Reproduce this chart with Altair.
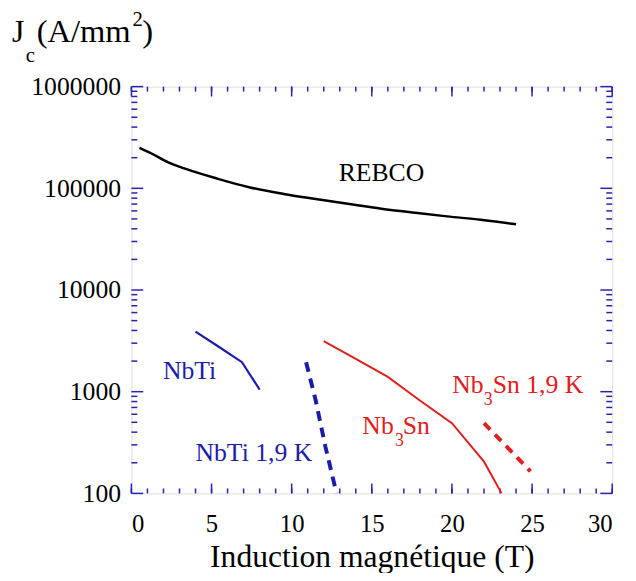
import altair as alt
import pandas as pd

# ---- data ----
rebco_x = [0.5, 1.25, 2.3, 3.3, 5.4, 7.4, 9.5, 11.5, 13.6, 15.6, 17.7, 19.7, 21.8, 24.0]
rebco_y = [250000, 220000, 180000, 157000, 124000, 102000, 88000, 78500, 70000, 63000,
           57500, 53000, 49000, 44400]

nbti_x = [4.0, 5.4, 6.9, 8.0]
nbti_y = [3900, 2800, 1950, 1050]

nbti19_x = [10.9, 11.5, 12.1, 12.8]
nbti19_y = [1950, 820, 290, 100]

nb3sn_x = [12.0, 14.0, 16.0, 18.0, 20.0, 22.0, 23.1]
nb3sn_y = [3150, 2100, 1400, 820, 490, 205, 100]

nb3sn19_x = [22.0, 23.4, 24.9]
nb3sn19_y = [490, 290, 165]

x_major = [0, 5, 10, 15, 20, 25, 30]
x_minor = list(range(0, 31))
y_major = [100, 1000, 10000, 100000, 1000000]
y_minor = [m * 10 ** e for e in range(2, 6) for m in range(2, 10)]

FONT = "Liberation Serif"
BLUE = "#1c1caa"
FRAME = "#2323b0"
RED = "#e0201c"
W, H = 487, 412

xs = alt.Scale(domain=[0, 30], nice=False, zero=False)
ys = alt.Scale(type="log", domain=[100, 1000000], nice=False)


def line(xv, yv, color, width, dash=None, interp="linear"):
    df = pd.DataFrame({"x": xv, "y": yv})
    kw = dict(color=color, strokeWidth=width, clip=True, interpolate=interp)
    if dash:
        kw["strokeDash"] = dash
    return alt.Chart(df).mark_line(**kw).encode(
        x=alt.X("x:Q", scale=xs), y=alt.Y("y:Q", scale=ys)
    )


base_x = alt.X(
    "x:Q",
    scale=xs,
    axis=alt.Axis(
        values=x_major, ticks=False, domain=False, grid=False,
        labelFont=FONT, labelFontSize=25, labelColor="black", labelPadding=19,
        title="Induction magnétique (T)", titleFont=FONT, titleFontSize=32,
        titleFontWeight="normal", titleColor="black", titlePadding=5,
    ),
)
base_y = alt.Y(
    "y:Q",
    scale=ys,
    axis=alt.Axis(
        values=y_major, format="d", ticks=False, domain=False, grid=False,
        labelFont=FONT, labelFontSize=26, labelColor="black", labelPadding=11,
        title=None,
    ),
)

axes = alt.Chart(pd.DataFrame({"x": [0], "y": [100]})).mark_point(opacity=0).encode(
    x=base_x, y=base_y
)


def xticks(vals, length):
    df = pd.DataFrame({"x": vals})
    bot = alt.Chart(df).mark_rule(color=FRAME, strokeWidth=1.5).encode(
        x=alt.X("x:Q", scale=xs), y=alt.value(H), y2=alt.value(H - length)
    )
    top = alt.Chart(df).mark_rule(color=FRAME, strokeWidth=1.5).encode(
        x=alt.X("x:Q", scale=xs), y=alt.value(0), y2=alt.value(length)
    )
    return bot + top


def yticks(vals, length):
    df = pd.DataFrame({"y": vals})
    left = alt.Chart(df).mark_rule(color=FRAME, strokeWidth=1.5).encode(
        y=alt.Y("y:Q", scale=ys), x=alt.value(0), x2=alt.value(length)
    )
    right = alt.Chart(df).mark_rule(color=FRAME, strokeWidth=1.5).encode(
        y=alt.Y("y:Q", scale=ys), x=alt.value(W), x2=alt.value(W - length)
    )
    return left + right


def label(text, x, y, color, size=26, align="center", dx=0, dy=0):
    df = pd.DataFrame({"x": [x], "y": [y], "t": [text]})
    return alt.Chart(df).mark_text(
        font=FONT, fontSize=size, color=color, align=align, baseline="middle",
        dx=dx, dy=dy,
    ).encode(x=alt.X("x:Q", scale=xs), y=alt.Y("y:Q", scale=ys), text="t:N")


def pix_text(text, px, py, size, align="left"):
    df = pd.DataFrame({"t": [text]})
    return alt.Chart(df).mark_text(
        font=FONT, fontSize=size, color="black", align=align, baseline="middle"
    ).encode(x=alt.value(px), y=alt.value(py), text="t:N")


labels = (
    label("REBCO", 15.6, 140000, "black")
    + label("NbTi", 3.63, 1600, BLUE)
    + label("NbTi 1,9 K", 7.64, 250, BLUE)
    + label("Nb", 14.41, 457, RED, align="left")
    + label("3", 14.41, 457, RED, size=18, align="left", dx=33, dy=15)
    + label("Sn", 14.41, 457, RED, align="left", dx=41)
    + label("Nb", 20.02, 1170, RED, align="left")
    + label("3", 20.02, 1170, RED, size=18, align="left", dx=32, dy=15)
    + label("Sn 1,9 K", 20.02, 1170, RED, align="left", dx=41)
)

# y-axis title J_c (A/mm^2), placed above the plot (pixel offsets relative to plot origin)
ytitle = (
    pix_text("J", -121, -55, 32)
    + pix_text("c", -107, -31, 21)
    + pix_text("(A/mm", -96, -55, 33)
    + pix_text("2", 1, -67, 21)
    + pix_text(")", 11, -55, 33)
)

chart = alt.layer(
    axes,
    xticks(x_minor, 5), xticks(x_major, 10),
    yticks(y_minor, 6), yticks(y_major, 12),
    line(rebco_x, rebco_y, "black", 2.5, interp="monotone"),
    line(nbti_x, nbti_y, BLUE, 2.2),
    line(nbti19_x, nbti19_y, BLUE, 4, [10, 7]),
    line(nb3sn_x, nb3sn_y, RED, 2),
    line(nb3sn19_x, nb3sn19_y, RED, 4, [9, 7]),
    labels,
    ytitle,
).properties(
    width=W, height=H,
    autosize=alt.AutoSizeParams(type="none"),
    padding={"left": 125, "top": 76, "right": 16, "bottom": 77},
).configure_view(stroke=FRAME, strokeWidth=2.5).configure(background="white")

chart.save("out.html", embed_options={"renderer": "svg", "actions": False})
